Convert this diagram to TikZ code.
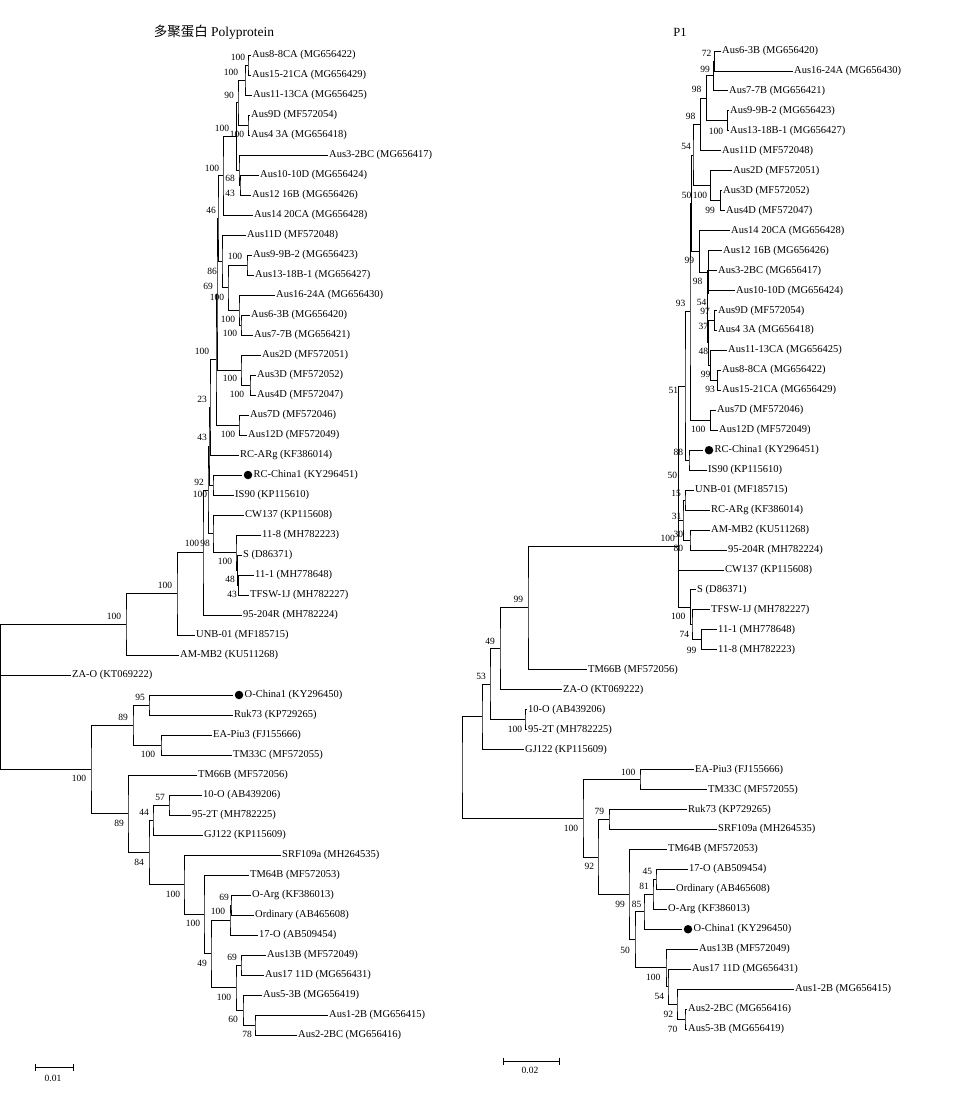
\documentclass[tikz,border=0pt]{standalone}
\usepackage{fontspec}
\setmainfont{Liberation Serif}
\newfontfamily\cjk{Noto Sans CJK SC}
\usetikzlibrary{calc}
\newcount\bsn
\tikzset{
  br/.style={line width=0.9pt},
  leaf/.style={anchor=west,inner sep=1pt,font=\fontsize{10.5}{12}\selectfont},
  bsl/.style={inner sep=0pt,font=\fontsize{9.5}{11}\selectfont},
  dotn/.style={circle,fill=black,inner sep=0pt,minimum size=8.5pt},
  ttl/.style={inner sep=0pt,font=\fontsize{13.5}{15}\selectfont}
}
\newcommand\leafn[4]{\coordinate (#1) at (#2,{#3}); \node[leaf] (#1t) at (#1) {#4};}
\newcommand\leafd[4]{\coordinate (#1) at (#2,{#3}); \node[dotn] (#1d) at ($(#1)+(6,0)$) {}; \node[leaf] (#1t) at ($(#1)+(10.5,0)$) {#4};}
\newcommand\rleaf[3]{\leafn{r#1}{#2}{51+19.96*(#1-1)}{#3}}
\newcommand\rleafd[3]{\leafd{r#1}{#2}{51+19.96*(#1-1)}{#3}}
\newcommand\inode[4]{\path let \p1=($(#3)!0.5!(#4)$) in (#2pt,\y1) coordinate (#1); \draw[br] (#3) -| (#1) |- (#4);}
\newcommand\bsv[3]{\global\advance\bsn by 1 \node[bsl] (bs\the\bsn) at (#1,#2) {#3};}
\begin{document}
\begin{tikzpicture}[x=1pt,y=-1pt]
\useasboundingbox (0,0) rectangle (960,1097);
\fill[white] (0,0) rectangle (960,1097);
% titles
\node[ttl] (title1) at (214,32) {{\cjk 多聚蛋白} Polyprotein};
\node[ttl,font=\fontsize{12.5}{14}\selectfont] (title2) at (680,32) {P1};
% ---------------- left tree leaves
\leafn{l1}{251}{55}{Aus8-8CA (MG656422)}
\leafn{l2}{251}{75}{Aus15-21CA (MG656429)}
\leafn{l3}{252}{95}{Aus11-13CA (MG656425)}
\leafn{l4}{250}{115}{Aus9D (MF572054)}
\leafn{l5}{250}{135}{Aus4 3A (MG656418)}
\leafn{l6}{328}{155}{Aus3-2BC (MG656417)}
\leafn{l7}{259}{175}{Aus10-10D (MG656424)}
\leafn{l8}{251}{195}{Aus12 16B (MG656426)}
\leafn{l9}{253}{215}{Aus14 20CA (MG656428)}
\leafn{l10}{246}{235}{Aus11D (MF572048)}
\leafn{l11}{252}{255}{Aus9-9B-2 (MG656423)}
\leafn{l12}{254}{275}{Aus13-18B-1 (MG656427)}
\leafn{l13}{275}{295}{Aus16-24A (MG656430)}
\leafn{l14}{250}{315}{Aus6-3B (MG656420)}
\leafn{l15}{253}{335}{Aus7-7B (MG656421)}
\leafn{l16}{261}{355}{Aus2D (MF572051)}
\leafn{l17}{256}{375}{Aus3D (MF572052)}
\leafn{l18}{256}{395}{Aus4D (MF572047)}
\leafn{l19}{249}{415}{Aus7D (MF572046)}
\leafn{l20}{247}{435}{Aus12D (MF572049)}
\leafn{l21}{239}{455}{RC-ARg (KF386014)}
\leafd{l22}{242}{475}{RC-China1 (KY296451)}
\leafn{l23}{234}{495}{IS90 (KP115610)}
\leafn{l24}{244}{515}{CW137 (KP115608)}
\leafn{l25}{261}{535}{11-8 (MH782223)}
\leafn{l26}{242}{555}{S (D86371)}
\leafn{l27}{254}{575}{11-1 (MH778648)}
\leafn{l28}{249}{595}{TFSW-1J (MH782227)}
\leafn{l29}{242}{615}{95-204R (MH782224)}
\leafn{l30}{195}{635}{UNB-01 (MF185715)}
\leafn{l31}{179}{655}{AM-MB2 (KU511268)}
\leafn{l32}{71}{675}{ZA-O (KT069222)}
\leafd{l33}{233}{695}{O-China1 (KY296450)}
\leafn{l34}{233}{715}{Ruk73 (KP729265)}
\leafn{l35}{212}{735}{EA-Piu3 (FJ155666)}
\leafn{l36}{232}{755}{TM33C (MF572055)}
\leafn{l37}{197}{775}{TM66B (MF572056)}
\leafn{l38}{202}{795}{10-O (AB439206)}
\leafn{l39}{191}{815}{95-2T (MH782225)}
\leafn{l40}{203}{835}{GJ122 (KP115609)}
\leafn{l41}{281}{855}{SRF109a (MH264535)}
\leafn{l42}{249}{875}{TM64B (MF572053)}
\leafn{l43}{251}{895}{O-Arg (KF386013)}
\leafn{l44}{254}{915}{Ordinary (AB465608)}
\leafn{l45}{258}{935}{17-O (AB509454)}
\leafn{l46}{266}{955}{Aus13B (MF572049)}
\leafn{l47}{264}{975}{Aus17 11D (MG656431)}
\leafn{l48}{262}{995}{Aus5-3B (MG656419)}
\leafn{l49}{328}{1015}{Aus1-2B (MG656415)}
\leafn{l50}{297}{1035}{Aus2-2BC (MG656416)}
% ---------------- left tree internal nodes
\inode{A1}{248}{l1}{l2}
\inode{A2}{245}{A1}{l3}
\inode{A4}{248}{l4}{l5}
\inode{A3}{238}{A2}{A4}
\inode{A7}{240}{l7}{l8}
\inode{A6}{239}{l6}{A7}
\inode{A5}{236.5}{A3}{A6}
\inode{Na}{223}{A5}{l9}
\inode{A8}{247}{l11}{l12}
\inode{A10}{241}{l14}{l15}
\inode{A9}{239}{l13}{A10}
\inode{Nd}{228}{A8}{A9}
\inode{Nc}{222}{l10}{Nd}
\inode{Nb}{218}{Na}{Nc}
\inode{A11}{250}{l17}{l18}
\inode{A12}{241}{l16}{A11}
\inode{G1}{217}{Nb}{A12}
\inode{A13}{239}{l19}{l20}
\inode{G}{216}{G1}{A13}
\inode{P}{210}{G}{l21}
\inode{B0}{213}{l22}{l23}
\inode{Q}{209}{P}{B0}
\inode{X1}{238.5}{l27}{l28}
\inode{X2}{237.5}{l26}{X1}
\inode{X3}{236}{l25}{X2}
\inode{Y}{213}{l24}{X3}
\inode{R}{208}{Q}{Y}
\inode{T3}{203}{R}{l29}
\inode{T2}{177}{T3}{l30}
\inode{T1}{126}{T2}{l31}
\inode{O1}{149}{l33}{l34}
\inode{O2}{161}{l35}{l36}
\inode{O3}{133}{O1}{O2}
\inode{O7}{169}{l38}{l39}
\inode{O6}{153}{O7}{l40}
\inode{O12}{231}{l43}{l44}
\inode{O11}{230}{O12}{l45}
\inode{O16}{241}{l46}{l47}
\inode{O18}{255}{l49}{l50}
\inode{O17}{243}{l48}{O18}
\inode{O14}{236}{O16}{O17}
\inode{O13}{211}{O11}{O14}
\inode{O10}{204}{l42}{O13}
\inode{O9}{184}{l41}{O10}
\inode{O8}{149}{O6}{O9}
\inode{O5}{128}{l37}{O8}
\inode{O4}{91}{O3}{O5}
\coordinate (root) at (0.6,700);
\draw[br] (T1) -| (root) |- (O4);
\draw[br] (root |- l32) -- (l32);
% ---------------- left bootstrap values
\bsv{238}{57}{100}
\bsv{231}{72}{100}
\bsv{229}{95}{90}
\bsv{222}{128}{100}
\bsv{237}{134}{100}
\bsv{212}{168}{100}
\bsv{230}{178}{68}
\bsv{230}{193}{43}
\bsv{211}{210}{46}
\bsv{235}{256}{100}
\bsv{212}{271}{86}
\bsv{208}{286}{69}
\bsv{217}{297}{100}
\bsv{228}{319}{100}
\bsv{230}{333}{100}
\bsv{202}{351}{100}
\bsv{230}{378}{100}
\bsv{237}{394}{100}
\bsv{202}{399}{23}
\bsv{228}{434}{100}
\bsv{202}{437}{43}
\bsv{199}{482}{92}
\bsv{200}{494}{100}
\bsv{192}{543}{100}
\bsv{205}{543}{98}
\bsv{225}{561}{100}
\bsv{230}{579}{48}
\bsv{232}{594}{43}
\bsv{165}{585}{100}
\bsv{114}{616}{100}
\bsv{140}{697}{95}
\bsv{123}{717}{89}
\bsv{148}{754}{100}
\bsv{79}{778}{100}
\bsv{160}{797}{57}
\bsv{144}{812}{44}
\bsv{119}{823}{89}
\bsv{139}{862}{84}
\bsv{173}{894}{100}
\bsv{224}{897}{69}
\bsv{218}{911}{100}
\bsv{193}{923}{100}
\bsv{232}{957}{69}
\bsv{202}{963}{49}
\bsv{224}{997}{100}
\bsv{233}{1019}{60}
\bsv{247}{1034}{78}
% ---------------- right tree leaves
\rleaf{1}{721}{Aus6-3B (MG656420)}
\rleaf{2}{793}{Aus16-24A (MG656430)}
\rleaf{3}{728}{Aus7-7B (MG656421)}
\rleaf{4}{729}{Aus9-9B-2 (MG656423)}
\rleaf{5}{729}{Aus13-18B-1 (MG656427)}
\rleaf{6}{721}{Aus11D (MF572048)}
\rleaf{7}{732}{Aus2D (MF572051)}
\rleaf{8}{722}{Aus3D (MF572052)}
\rleaf{9}{725}{Aus4D (MF572047)}
\rleaf{10}{730}{Aus14 20CA (MG656428)}
\rleaf{11}{722}{Aus12 16B (MG656426)}
\rleaf{12}{717}{Aus3-2BC (MG656417)}
\rleaf{13}{735}{Aus10-10D (MG656424)}
\rleaf{14}{717}{Aus9D (MF572054)}
\rleaf{15}{717}{Aus4 3A (MG656418)}
\rleaf{16}{727}{Aus11-13CA (MG656425)}
\rleaf{17}{721}{Aus8-8CA (MG656422)}
\rleaf{18}{721}{Aus15-21CA (MG656429)}
\rleaf{19}{716}{Aus7D (MF572046)}
\rleaf{20}{718}{Aus12D (MF572049)}
\rleafd{21}{703}{RC-China1 (KY296451)}
\rleaf{22}{707}{IS90 (KP115610)}
\rleaf{23}{694}{UNB-01 (MF185715)}
\rleaf{24}{710}{RC-ARg (KF386014)}
\rleaf{25}{710}{AM-MB2 (KU511268)}
\rleaf{26}{727}{95-204R (MH782224)}
\rleaf{27}{724}{CW137 (KP115608)}
\rleaf{28}{696}{S (D86371)}
\rleaf{29}{710}{TFSW-1J (MH782227)}
\rleaf{30}{717}{11-1 (MH778648)}
\rleaf{31}{717}{11-8 (MH782223)}
\rleaf{32}{587}{TM66B (MF572056)}
\rleaf{33}{562}{ZA-O (KT069222)}
\rleaf{34}{527}{10-O (AB439206)}
\rleaf{35}{527}{95-2T (MH782225)}
\rleaf{36}{524}{GJ122 (KP115609)}
\rleaf{37}{694}{EA-Piu3 (FJ155666)}
\rleaf{38}{707}{TM33C (MF572055)}
\rleaf{39}{687}{Ruk73 (KP729265)}
\rleaf{40}{717}{SRF109a (MH264535)}
\rleaf{41}{667}{TM64B (MF572053)}
\rleaf{42}{688}{17-O (AB509454)}
\rleaf{43}{675}{Ordinary (AB465608)}
\rleaf{44}{667}{O-Arg (KF386013)}
\rleafd{45}{682}{O-China1 (KY296450)}
\rleaf{46}{698}{Aus13B (MF572049)}
\rleaf{47}{691}{Aus17 11D (MG656431)}
\rleaf{48}{794}{Aus1-2B (MG656415)}
\rleaf{49}{687}{Aus2-2BC (MG656416)}
\rleaf{50}{687}{Aus5-3B (MG656419)}
% ---------------- right tree internal nodes
\inode{rC1a}{714}{r1}{r2}
\inode{rC1}{713}{rC1a}{r3}
\inode{rC2}{727}{r4}{r5}
\inode{rC3}{706}{rC1}{rC2}
\inode{rC4}{700}{rC3}{r6}
\inode{rC5}{720}{r8}{r9}
\inode{rC6}{710}{r7}{rC5}
\inode{rC7}{693}{rC4}{rC6}
\inode{rC14}{717}{r17}{r18}
\inode{rC13}{710}{r16}{rC14}
\inode{rC12}{714}{r14}{r15}
\inode{rC15}{708}{rC12}{rC13}
\inode{rD1}{707}{r13}{rC15}
\inode{rD2}{707.5}{r12}{rD1}
\inode{rD3}{708}{r11}{rD2}
\inode{rC9}{699}{r10}{rD3}
\inode{rC8}{691.5}{rC7}{rC9}
\inode{rC19}{710}{r19}{r20}
\inode{rC18}{690}{rC8}{rC19}
\inode{rE1}{689}{r21}{r22}
\inode{rC20}{685}{rC18}{rE1}
\inode{rE2}{685}{r23}{r24}
\inode{rE3}{690}{r25}{r26}
\inode{rH1}{683}{rE2}{rE3}
\inode{rG1}{701}{r30}{r31}
\inode{rG2}{692}{r29}{rG1}
\inode{rG3}{690.5}{r28}{rG2}
\coordinate (rF) at (678.5,546);
\draw[br] (rC20) -| (rF) |- (rG3);
\draw[br] (rF |- rH1) -- (rH1);
\draw[br] (rF |- r27) -- (r27);
\inode{rN99}{528}{rF}{r32}
\inode{rN49}{500}{rN99}{r33}
\inode{rN10}{525}{r34}{r35}
\inode{rN53}{490}{rN49}{rN10}
\inode{rNg}{482}{rN53}{r36}
\inode{rEA}{640}{r37}{r38}
\inode{rN79}{609}{r39}{r40}
\inode{rN45}{656}{r42}{r43}
\inode{rN81}{653}{rN45}{r44}
\inode{rN85}{644}{rN81}{r45}
\inode{rN70}{685}{r49}{r50}
\inode{rN92b}{677}{r48}{rN70}
\inode{rN54}{668}{r47}{rN92b}
\inode{rN100}{666}{r46}{rN54}
\inode{rN50}{635}{rN85}{rN100}
\inode{rN99b}{629}{r41}{rN50}
\inode{rN92}{598}{rN79}{rN99b}
\inode{rNo1}{583}{rEA}{rN92}
\inode{rR0}{462}{rNg}{rNo1}
% ---------------- right bootstrap values
\bsv{706.7}{53.3}{72}
\bsv{705}{69.3}{99}
\bsv{696.7}{89}{98}
\bsv{690.7}{116.7}{98}
\bsv{716}{131}{100}
\bsv{686}{146.7}{54}
\bsv{686.7}{195}{50}
\bsv{700}{195}{100}
\bsv{710}{210}{99}
\bsv{689.3}{260}{99}
\bsv{697.7}{281}{98}
\bsv{680.7}{303.3}{93}
\bsv{701.7}{302.7}{54}
\bsv{705}{311.7}{97}
\bsv{703.3}{326}{37}
\bsv{703.3}{351.7}{48}
\bsv{705.7}{374.3}{99}
\bsv{710}{389.3}{93}
\bsv{673.3}{390}{51}
\bsv{698.3}{429}{100}
\bsv{678.3}{452.3}{88}
\bsv{672.3}{475}{50}
\bsv{676}{493.3}{15}
\bsv{676.7}{516.7}{31}
\bsv{678.3}{534.3}{30}
\bsv{667.7}{538.3}{100}
\bsv{678.3}{548.3}{80}
\bsv{518.3}{599.3}{99}
\bsv{678.3}{616.7}{100}
\bsv{684.3}{634.3}{74}
\bsv{691.7}{650}{99}
\bsv{490}{641}{49}
\bsv{481}{676.7}{53}
\bsv{515}{729.3}{100}
\bsv{628.3}{772.3}{100}
\bsv{599.3}{811.7}{79}
\bsv{571}{828.3}{100}
\bsv{589.3}{866.7}{92}
\bsv{647.3}{871.7}{45}
\bsv{644}{886.7}{81}
\bsv{620}{904.3}{99}
\bsv{636.7}{904.3}{85}
\bsv{625}{950}{50}
\bsv{653.3}{977.7}{100}
\bsv{659.3}{996}{54}
\bsv{668.3}{1014}{92}
\bsv{672.7}{1029}{70}
% ---------------- scale bars
\coordinate (s1a) at (35,1067); \coordinate (s1b) at (73,1067);
\draw[br] (s1a) -- (s1b);
\draw[br] ($(s1a)+(0,-3.5)$) -- ($(s1a)+(0,3.5)$);
\draw[br] ($(s1b)+(0,-3.5)$) -- ($(s1b)+(0,3.5)$);
\node[bsl] (s1l) at (53,1078) {0.01};
\coordinate (s2a) at (503,1061); \coordinate (s2b) at (559,1061);
\draw[br] (s2a) -- (s2b);
\draw[br] ($(s2a)+(0,-3.5)$) -- ($(s2a)+(0,3.5)$);
\draw[br] ($(s2b)+(0,-3.5)$) -- ($(s2b)+(0,3.5)$);
\node[bsl] (s2l) at (530,1070) {0.02};
\end{tikzpicture}
\end{document}
